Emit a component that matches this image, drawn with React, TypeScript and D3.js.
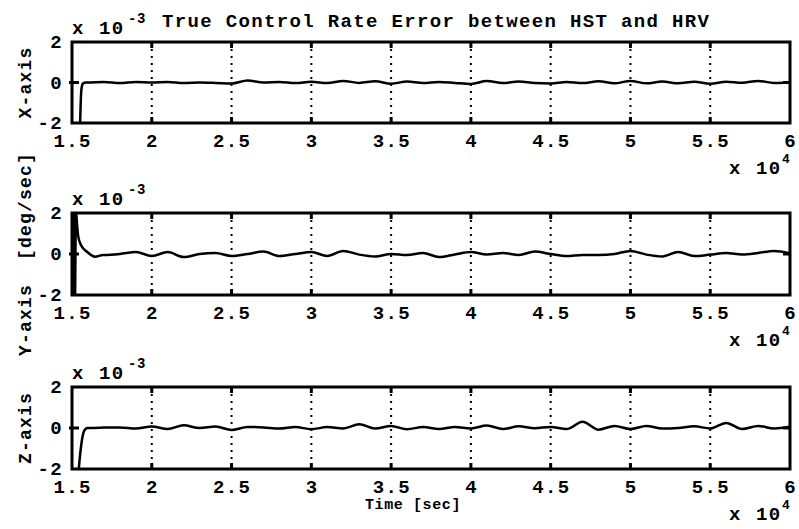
import React from "react";
import * as d3 from "d3";

// ---- data (values in units of 1e-3 deg/sec, time in seconds) ----
const xTickValues = [15000, 20000, 25000, 30000, 35000, 40000, 45000, 50000, 55000, 60000];
const xTickLabels = ["1.5", "2", "2.5", "3", "3.5", "4", "4.5", "5", "5.5", "6"];
const yTickValues = [2, 0, -2];
const yTickLabels = ["2", "0", "-2"];
const axisNames = ["X-axis", "Y-axis  [deg/sec]", "Z-axis"];

// start-up transients
const xStartTimes = [15500, 15530, 15570, 15600, 15650, 15730, 15850];
const xStartValues = [-2.3, -1.4, -0.55, -0.28, -0.1, -0.03, 0.0];
const yStartTimes = [15000, 15030, 15060, 15090, 15120, 15150, 15180, 15250, 15320, 15390, 15500, 15610, 15920, 16200, 16440, 16940];
const yStartValues = [-2.5, 2.5, -2.5, 2.5, -2.5, 2.5, -2.5, 2.1, 1.4, 0.87, 0.55, 0.37, 0.12, -0.05, -0.13, -0.05];
const zStartTimes = [15390, 15470, 15560, 15640, 15730, 15830, 15920];
const zStartValues = [-2.3, -1.6, -0.95, -0.5, -0.2, -0.06, -0.01];

// steady-state samples every 1000 s
const xSteadyTimes = d3.range(16000, 60001, 1000);
const xSteadyValues = [
  0.0, 0.03, -0.02, 0.03, 0.0, 0.03, -0.03, 0.0, -0.02, -0.05, 0.1, 0.0, 0.03, -0.03, 0.04, -0.03,
  0.08, -0.02, 0.06, -0.06, 0.05, -0.02, 0.03, -0.02, -0.07, 0.07, -0.03, 0.05, -0.03, -0.05, 0.03,
  -0.03, 0.06, -0.04, 0.08, -0.04, 0.05, -0.04, 0.04, -0.06, 0.04, -0.01, 0.08, -0.02, 0.0,
];
const ySteadyTimes = d3.range(17000, 60001, 1000);
const ySteadyValues = [
  -0.05, 0.0, 0.1, -0.1, 0.1, -0.15, 0.0, 0.05, -0.1, 0.0, 0.12, -0.1, 0.0, 0.1, -0.1, 0.15,
  -0.03, -0.12, 0.0, -0.05, 0.05, -0.15, -0.02, 0.1, -0.02, 0.05, -0.05, 0.12, 0.0, -0.1, -0.05,
  -0.05, 0.0, 0.15, -0.03, -0.12, 0.1, -0.1, -0.03, 0.05, -0.02, 0.05, 0.15, 0.03,
];
const zSteadyTimes = d3.range(16000, 60001, 1000);
const zSteadyValues = [
  0.0, 0.02, 0.03, -0.02, 0.07, -0.05, 0.13, 0.0, 0.07, -0.1, 0.05, 0.03, -0.03, 0.05, -0.06, 0.05,
  -0.02, 0.18, -0.03, 0.1, -0.06, 0.05, -0.05, 0.05, -0.02, 0.12, -0.05, 0.08, -0.01, 0.05, -0.05,
  0.3, -0.08, 0.1, -0.05, 0.1, -0.03, 0.0, 0.08, -0.02, 0.25, -0.05, 0.1, -0.02, 0.06,
];

type Pt = [number, number];
const zip = (t: number[], v: number[]): Pt[] => t.map((ti, i) => [ti, v[i]]);
const series: Pt[][] = [
  [...zip(xStartTimes, xStartValues), ...zip(xSteadyTimes, xSteadyValues)],
  [...zip(yStartTimes, yStartValues), ...zip(ySteadyTimes, ySteadyValues)],
  [...zip(zStartTimes, zStartValues), ...zip(zSteadyTimes, zSteadyValues)],
];

// ---- layout ----
const W = 799;
const H = 529;
const LEFT = 72;
const RIGHT = 790;
const panelTops = [42, 213, 387];
const panelHeights = [81, 82, 82];
const FONT = "'Liberation Mono', 'Courier New', 'DejaVu Sans Mono', monospace";
const FS = 19;
const LS = 1.35;

const x = d3.scaleLinear().domain([15000, 60000]).range([LEFT, RIGHT]);

const T = (p: any) => (
  <text fontFamily={FONT} fontWeight="bold" fontSize={FS} letterSpacing={LS} {...p} />
);

function Panel({ idx }: { idx: number }) {
  const top = panelTops[idx];
  const h = panelHeights[idx];
  const bottom = top + h;
  const y = d3.scaleLinear().domain([-2, 2]).range([bottom, top]);
  const line = d3
    .line<Pt>()
    .x((d) => x(d[0]))
    .y((d) => y(d[1]))
    .curve(d3.curveMonotoneX);
  const clipId = `clip${idx}`;
  const midY = (top + bottom) / 2;
  return (
    <g>
      <defs>
        <clipPath id={clipId}>
          <rect x={LEFT} y={top} width={RIGHT - LEFT} height={h} />
        </clipPath>
      </defs>
      {xTickValues.slice(1, -1).map((t) => (
        <line key={t} x1={x(t)} x2={x(t)} y1={top} y2={bottom} stroke="#000" strokeWidth={2} strokeDasharray="2 5" />
      ))}
      {xTickValues.slice(1, -1).map((t) => (
        <g key={"t" + t}>
          <line x1={x(t)} x2={x(t)} y1={top} y2={top + 6} stroke="#000" strokeWidth={3} />
          <line x1={x(t)} x2={x(t)} y1={bottom} y2={bottom - 6} stroke="#000" strokeWidth={3} />
        </g>
      ))}
      <line x1={LEFT - 3} x2={LEFT + 7} y1={y(0)} y2={y(0)} stroke="#000" strokeWidth={3} />
      <line x1={RIGHT} x2={RIGHT - 7} y1={y(0)} y2={y(0)} stroke="#000" strokeWidth={3} />
      <path d={line(series[idx]) || ""} fill="none" stroke="#000" strokeWidth={2.5} clipPath={`url(#${clipId})`} strokeLinejoin="round" />
      <rect x={LEFT} y={top} width={RIGHT - LEFT} height={h} fill="none" stroke="#000" strokeWidth={3} />
      {yTickValues.map((v, i) => (
        <T key={v} x={63} y={y(v) + 6} textAnchor="end">
          {yTickLabels[i]}
        </T>
      ))}
      {xTickValues.map((t, i) => (
        <T key={t} x={x(t) + LS / 2} y={bottom + 24} textAnchor="middle">
          {xTickLabels[i]}
        </T>
      ))}
      <T x={72} y={top - 8}>x</T>
      <T x={99} y={top - 8}>10</T>
      <T x={128} y={top - 19} fontSize={14} letterSpacing={0.5}>-3</T>
      <T x={729} y={bottom + 51}>x</T>
      <T x={756} y={bottom + 51}>10</T>
      <T x={782} y={bottom + 40} fontSize={13} letterSpacing={0.5}>4</T>
      <T
        transform={`translate(31,${midY}) rotate(-90)`}
        textAnchor="middle"
        fontSize={18}
        letterSpacing={1.2}
        style={{ whiteSpace: "pre" }}
      >
        {axisNames[idx]}
      </T>
    </g>
  );
}

export default function App() {
  return (
    <svg
      width={W}
      height={H}
      viewBox={`0 0 ${W} ${H}`}
      style={{ position: "absolute", left: 0, top: 0, background: "#fff" }}
    >
      <rect x={0} y={0} width={W} height={H} fill="#fff" />
      {[0, 1, 2].map((i) => (
        <Panel key={i} idx={i} />
      ))}
      <T x={162} y={27}>True Control Rate Error between HST and HRV</T>
      <T x={413} y={509} textAnchor="middle" fontSize={15} letterSpacing={0.6}>
        Time [sec]
      </T>
    </svg>
  );
}
